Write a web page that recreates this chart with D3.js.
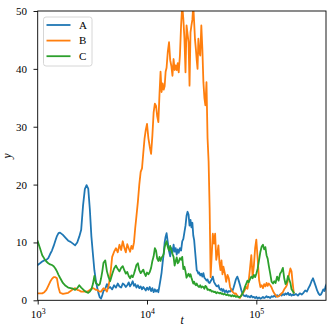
<!DOCTYPE html>
<html><head><meta charset="utf-8">
<script src="https://cdn.jsdelivr.net/npm/d3@7"></script>
<style>body{margin:0;background:#fff} svg{display:block}</style>
</head><body><svg id="c" width="335" height="329"></svg>
<script>
// shared time grid
const tVals = [
 1000,1050,1100,1150,1200,1250,1300,1350,1400,1450,1500,1550,1600,
 1700,1800,1900,2000,2100,2200,2300,2400,2500,2600,2700,2800,2900,3000,
 3100,3200,3300,3400,3500,3600,3700,3800,3900,4000,
 4150,4300,4450,4600,4800,5000,5200,5400,5600,5800,6000,
 6200,6400,6600,6800,7000,7200,7400,7600,7800,8000,
 8250,8500,8750,9000,9250,9500,9750,10000,
 10300,10600,10900,11200,11500,11800,12100,12400,12700,13000,
 13300,13600,13900,14200,14500,14800,15100,
 15500,15900,16300,16700,17100,17500,17900,18300,18700,19100,19500,
 20000,20500,21000,21500,22000,22500,23000,23500,24000,24500,25000,
 25500,26000,26500,27000,27500,28000,28500,29000,29500,30000,
 30700,31400,32100,32800,33500,34200,35000,35800,36600,37400,38200,39000,
 40000,41000,42000,43000,44000,45000,46000,47000,48000,49000,50000,
 51500,53000,54500,56000,57500,59000,60500,62000,63500,65000,67000,69000,
 71000,73000,75000,77000,79000,81000,83000,85000,87500,90000,92500,95000,97500,
 100000,103000,106000,109000,112000,115000,118000,121000,124000,127000,130000,
 134000,138000,142000,146000,150000,155000,160000,165000,170000,175000,180000,185000,190000,195000,200000,205000,210000,215000,220000,
 230000,240000,250000,260000,270000,280000,290000,300000,310000,320000,330000,340000,350000,360000,370000,380000,390000,400000,410000,420000,430000,440000
];
const seriesA = [
 6.1,6.4,6.7,6.9,7.0,7.3,8.0,8.6,9.4,10.3,11.1,11.6,11.7,
 11.3,10.8,10.3,10.1,9.8,9.5,10.0,11.0,12.2,16.4,19.2,19.9,19.3,15.7,
 11.0,8.0,5.2,3.5,2.2,1.2,0.5,0.3,0.9,1.6,
 2.0,2.8,2.1,2.3,1.9,2.6,2.2,2.9,2.4,2.2,2.9,
 2.7,2.3,2.6,3.1,2.4,2.8,3.3,2.5,2.8,2.2,
 2.6,2.1,2.4,1.9,2.3,2.0,1.7,2.2,
 1.8,2.3,1.6,2.1,1.4,1.9,1.5,1.8,1.4,2.5,
 3.6,4.8,6.5,8.0,10.0,11.0,11.6,
 10.0,8.5,7.6,9.0,8.2,9.6,8.4,9.0,7.9,8.8,8.2,
 9.0,8.6,10.2,10.6,11.8,12.9,14.6,15.3,14.8,12.9,13.9,
 12.6,13.4,11.2,10.4,8.6,6.9,5.2,5.0,4.6,4.8,
 4.3,4.6,4.1,4.7,3.9,3.7,3.4,3.6,3.1,3.0,3.3,3.6,
 4.1,3.2,2.8,2.5,2.4,2.6,2.0,1.8,2.0,1.6,1.9,
 1.4,1.7,1.3,1.6,1.5,1.9,1.6,2.2,2.9,3.6,4.1,3.4,
 2.6,1.7,1.1,0.8,0.7,0.9,0.6,0.7,0.5,0.8,0.5,0.6,0.4,
 0.6,0.3,0.5,0.3,0.4,0.6,0.4,0.5,0.7,0.5,0.6,
 0.4,0.7,0.6,0.8,0.6,0.9,0.7,1.0,0.8,1.1,0.9,1.2,1.0,1.3,0.9,1.1,0.8,1.0,0.9,
 1.1,0.8,1.2,1.0,1.3,1.7,1.5,2.1,2.6,3.3,3.8,3.1,2.4,1.7,1.2,0.9,1.0,1.4,1.9,1.6,2.4,2.8
];
const seriesB = [
 1.2,1.2,1.2,1.4,1.8,2.5,3.2,3.7,4.0,4.0,3.8,2.2,1.3,
 1.1,1.2,1.3,1.6,1.9,2.1,1.8,1.7,1.5,1.5,1.5,1.5,1.6,1.8,
 2.0,2.1,2.0,1.8,1.8,1.6,1.5,1.5,1.8,2.1,
 1.9,1.5,2.5,4.1,7.5,8.4,9.0,8.3,9.6,8.7,10.2,
 9.1,8.3,9.7,9.0,8.4,9.4,8.9,10.0,12.5,14.5,
 17.0,20.0,22.2,22.8,25.5,28.0,29.5,30.5,
 28.0,26.5,25.3,28.5,32.5,34.0,33.6,31.8,30.8,35.5,
 39.5,36.0,37.5,36.4,37.0,39.5,40.2,
 43.0,44.6,41.5,40.5,38.8,41.7,39.8,40.6,39.8,41.0,39.4,
 42.3,47.5,51.0,48.6,45.2,39.4,47.5,46.0,44.6,37.1,46.3,
 47.5,48.5,51.0,48.0,45.0,43.4,41.5,40.0,45.2,43.0,
 42.3,47.5,43.4,37.7,35.0,33.7,37.7,28.0,24.0,16.0,4.0,7.5,
 11.5,9.8,11.5,7.0,8.1,9.5,6.5,5.2,6.9,4.5,5.8,
 4.7,3.2,4.4,3.8,2.3,1.8,1.5,1.3,1.1,1.2,0.8,0.6,
 0.4,0.9,1.2,1.5,1.9,2.3,2.0,3.2,5.5,7.8,4.0,6.0,9.0,
 10.5,7.0,3.5,2.3,2.6,2.1,2.8,2.4,3.0,2.5,2.9,
 2.6,2.2,1.6,1.2,0.9,0.6,0.7,0.9,1.2,1.4,1.9,2.2,2.6,3.5,4.6,5.5,5.0,3.0,1.3
];
const seriesC = [
 10.2,9.0,7.8,7.2,6.7,6.4,6.2,6.1,5.9,5.5,5.0,4.4,3.9,
 3.0,2.5,2.2,2.1,2.0,1.8,2.1,2.6,2.2,1.9,1.6,1.4,1.3,1.5,
 1.9,2.8,4.2,3.0,2.8,2.6,2.8,3.8,5.0,6.5,
 6.9,5.0,4.0,3.3,4.5,5.5,6.0,5.4,5.0,5.6,5.9,
 5.2,4.6,4.9,4.2,3.8,4.3,4.0,4.6,5.3,6.1,
 6.4,5.2,4.7,5.0,5.3,4.6,4.2,4.8,
 4.5,4.9,5.6,6.8,7.6,9.0,8.6,7.2,6.8,7.5,
 6.8,7.4,7.6,8.0,9.2,9.8,10.2,
 9.2,8.6,9.4,8.7,8.0,7.5,6.0,6.8,7.4,6.4,6.6,
 7.3,7.0,7.5,5.4,5.8,5.0,3.9,4.3,4.6,4.1,4.5,
 3.9,3.4,2.9,3.2,2.8,2.6,2.9,2.6,2.4,2.3,
 2.6,2.2,2.4,2.3,2.0,2.5,2.3,1.8,1.9,1.7,1.8,1.5,
 1.6,1.4,1.5,1.2,1.4,1.3,1.2,1.3,1.1,1.2,1.0,
 1.1,0.9,1.0,0.8,0.9,0.7,0.9,0.7,0.8,0.6,0.7,0.5,
 0.6,0.8,1.3,1.8,2.4,2.9,3.4,3.1,3.6,4.1,3.8,4.4,4.0,
 4.6,5.5,7.0,8.4,9.3,9.6,8.8,9.2,7.8,7.2,6.0,
 4.6,3.2,2.9,3.3,3.0,4.1,3.4,4.6,5.0,5.6,3.8,2.8,3.2,4.2,3.6,3.0,1.9,1.6,1.3
];
const seriesNames = ["A","B","C"];
const seriesColors = ["#1f77b4","#ff7f0e","#2ca02c"];
const xTicks = [1e3,1e4,1e5];
const xTickExp = ["3","4","5"];
const yTicks = [0,10,20,30,40,50];
const xLabel = "t", yLabel = "y";

const L = 37.7, R = 326, T = 11, B = 300.3;
const FONT = "'Liberation Serif', 'DejaVu Serif', serif";
const svg = d3.select("#c");
const x = d3.scaleLog().domain([1000, 434000]).range([L, R]);
const y = d3.scaleLinear().domain([0, 50]).range([B, T]);

svg.append("defs").append("clipPath").attr("id","clip")
  .append("rect").attr("x",L).attr("y",T).attr("width",R-L).attr("height",B-T);

const allSeries = [seriesA, seriesB, seriesC];
const line = d3.line().x(d => x(d[0])).y(d => y(d[1]));
const plot = svg.append("g").attr("clip-path","url(#clip)");
allSeries.forEach((vals, i) => {
  const pts = vals.map((v, j) => [tVals[j], v]);
  plot.append("path").datum(pts)
    .attr("d", line).attr("fill","none")
    .attr("stroke", seriesColors[i]).attr("stroke-width",1.8)
    .attr("stroke-linejoin","round").attr("stroke-linecap","square");
});

// frame
svg.append("rect").attr("x",L).attr("y",T).attr("width",R-L).attr("height",B-T)
  .attr("fill","none").attr("stroke","#000").attr("stroke-width",0.9);

// x axis
const gx = svg.append("g").attr("transform",`translate(0,${B})`)
  .call(d3.axisBottom(x).tickValues(xTicks).tickSize(4.2).tickFormat(() => ""));
gx.select(".domain").remove();
gx.selectAll(".tick line").attr("stroke","#000").attr("stroke-width",0.9);
gx.selectAll(".tick").each(function(d, i){
  const t = d3.select(this).append("text").attr("y",17.8).attr("fill","#000")
    .attr("text-anchor","middle").attr("font-family",FONT).attr("font-size","11px");
  t.append("tspan").text("10");
  t.append("tspan").attr("dy",-4.2).attr("font-size","7.8px").text(xTickExp[i]);
});

// y axis
const gy = svg.append("g").attr("transform",`translate(${L},0)`)
  .call(d3.axisLeft(y).tickValues(yTicks).tickSize(4.2).tickPadding(6.5).tickFormat(d3.format("d")));
gy.select(".domain").remove();
gy.selectAll(".tick line").attr("stroke","#000").attr("stroke-width",0.9);
gy.selectAll(".tick text").attr("font-family",FONT).attr("font-size","11px").attr("fill","#000");

// axis labels
svg.append("text").attr("x",182).attr("y",324).attr("text-anchor","middle")
  .attr("font-family",FONT).attr("font-style","italic").attr("font-size","11.5px").text(xLabel);
svg.append("text").attr("transform","translate(11,156) rotate(-90)").attr("text-anchor","middle")
  .attr("font-family",FONT).attr("font-style","italic").attr("font-size","11.5px").text(yLabel);

// legend
const lg = svg.append("g");
lg.append("rect").attr("x",43.5).attr("y",17).attr("width",48.5).attr("height",49).attr("rx",2.5)
  .attr("fill","#fff").attr("fill-opacity",0.8).attr("stroke","#cccccc").attr("stroke-width",0.8);
seriesNames.forEach((n, i) => {
  const yy = 25 + i * 15.6;
  lg.append("line").attr("x1",46.5).attr("x2",70.5).attr("y1",yy).attr("y2",yy)
    .attr("stroke",seriesColors[i]).attr("stroke-width",1.8);
  lg.append("text").attr("x",79).attr("y",yy).attr("dy","0.35em")
    .attr("font-family",FONT).attr("font-size","11px").attr("fill","#000").text(n);
});
</script></body></html>
